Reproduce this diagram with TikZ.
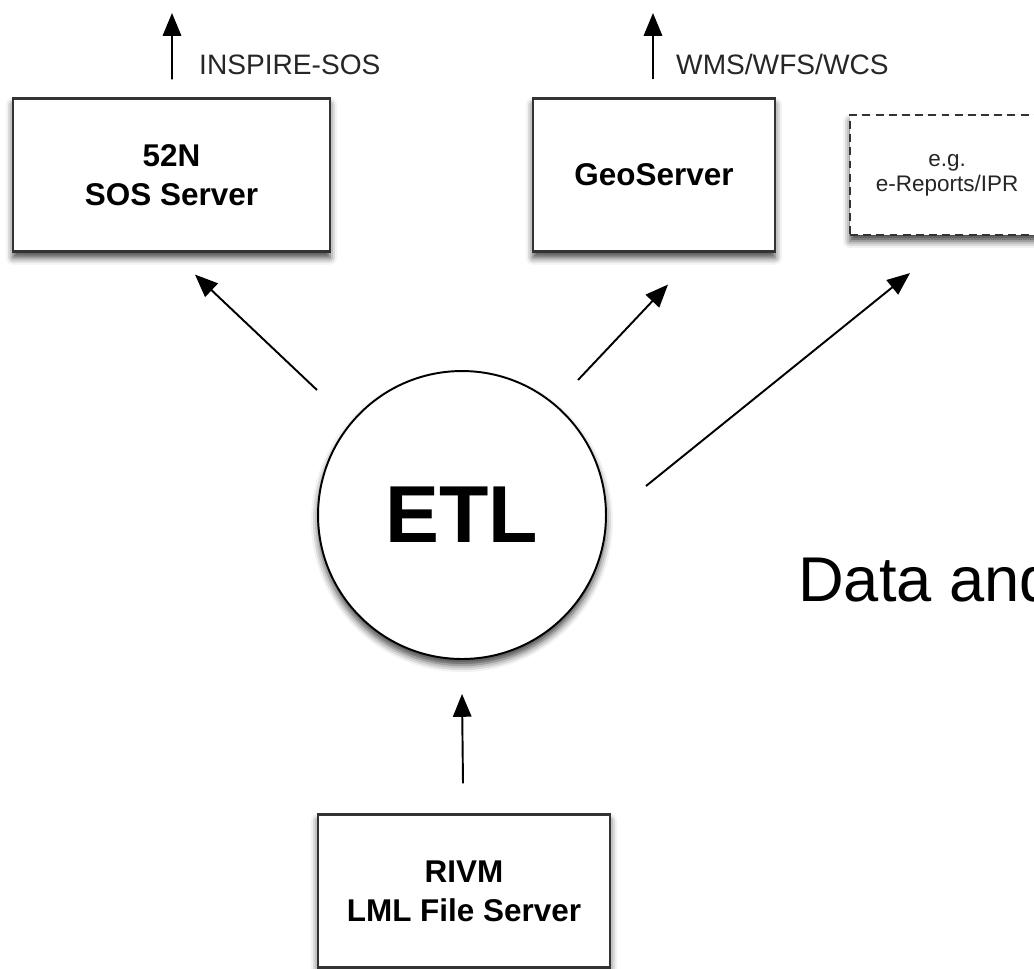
\documentclass[tikz,border=0pt]{standalone}
\usepackage{fontspec}
\setmainfont{Liberation Sans}
\usetikzlibrary{arrows.meta,calc,shadows.blur}

\tikzset{
  softshadow/.style={blur shadow={shadow xshift=0pt, shadow yshift=-3.5pt,
      shadow blur radius=4pt, shadow opacity=75}},
  server/.style={draw=black!80, line width=1.2pt, fill=white, align=center,
    minimum height=3.06cm, softshadow,
    font=\fontsize{17.9}{22}\selectfont\bfseries},
  optional/.style={server, dash pattern=on 4.5pt off 3pt,
    font=\fontsize{12.8}{14.4}\selectfont, text=black!85},
  flow/.style={line width=1.1pt, -{Triangle[length=13pt,width=10.5pt]}},
  proto/.style={anchor=base west, text=black!85,
    font=\fontsize{16}{19}\selectfont},
}

\begin{document}
\begin{tikzpicture}[x=0.02cm, y=-0.02cm]
\useasboundingbox (0,0) rectangle (1034,968);
\clip (0,0) rectangle (1034,968);

% servers on top
\node[server, minimum width=6.34cm] (sos) at (171.5,175) {52N\\SOS Server};
\node[server, minimum width=4.84cm] (geo) at (654,175) {GeoServer};
\node[optional, minimum width=3.88cm, minimum height=2.4cm] (other) at (947,175) {e.g.\\e-Reports/IPR};

% the ETL in the middle
\node[circle, draw=black, line width=1.1pt, fill=white, minimum size=5.76cm, softshadow,
  font=\fontsize{46}{50}\selectfont\bfseries] (etl) at (462,515) {ETL};

% source
\node[server, minimum width=5.84cm] (rivm) at (464,891) {RIVM\\LML File Server};

\node[anchor=base west, font=\fontsize{36}{40}\selectfont] (title) at (792,601) {Data and};

% outgoing services
\coordinate (sosout) at (172,13);
\coordinate (geoout) at (653,13);
\draw[flow] ($(sos.north)+(0.5,-18)$) -- (sosout);
\draw[flow] ($(geo.north)+(-1,-18)$) -- (geoout);
\node[proto] (sosapi) at (193,74) {INSPIRE-SOS};
\node[proto] (geoapi) at (670,74) {WMS/WFS/WCS};

% ETL feeds
\draw[flow] ($(etl)+(-145,-125)$) -- ($(sos.south)+(23.5,22)$);
\draw[flow] ($(etl)+(116,-135)$) -- ($(geo.south)+(14,32)$);
\draw[flow] ($(etl)+(184,-29)$) -- ($(other.south)+(-37,37)$);
\draw[flow] ($(rivm.north)+(-1,-30)$) -- ($(etl.south)+(0,34)$);

\end{tikzpicture}
\end{document}
